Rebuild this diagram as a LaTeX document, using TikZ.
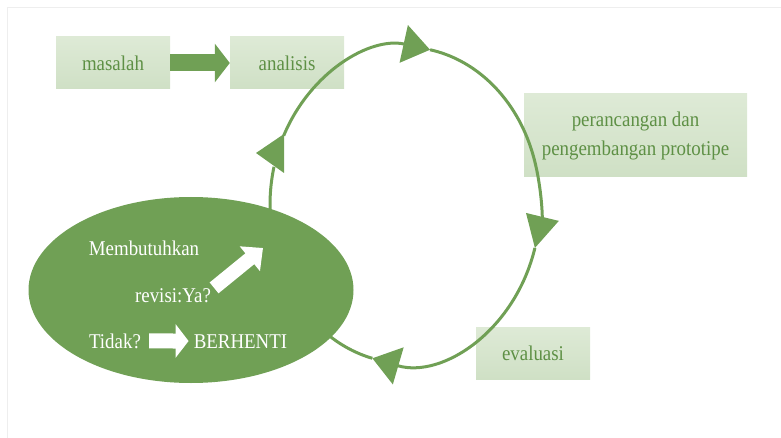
\documentclass[tikz,border=0pt]{standalone}
\usepackage{fontspec}
\setmainfont{Liberation Serif}[FakeStretch=0.9]
\usetikzlibrary{arrows.meta,shapes.geometric}
\definecolor{leafgreen}{HTML}{70A055}
\definecolor{paletop}{HTML}{DEEAD6}
\definecolor{palebot}{HTML}{CFE0C5}
\definecolor{boxtext}{HTML}{5E9045}
\definecolor{framegray}{HTML}{EEEEEE}

\begin{document}
\begin{tikzpicture}[x=1pt,y=-1pt,
    stagebox/.style={rectangle, top color=paletop, bottom color=palebot, text=boxtext,
      inner sep=0pt, align=center, font=\fontsize{21}{29}\selectfont},
    decision/.style={ellipse, fill=leafgreen, inner sep=0pt, minimum width=325pt, minimum height=186pt},
    whitetext/.style={text=white, inner sep=0pt, font=\fontsize{21}{25}\selectfont},
    cycleline/.style={draw=leafgreen, line width=3pt},
    blockarrow/.style={leafgreen, line width=17pt, -{Triangle[length=15pt,width=38pt]}},
    whitearrow/.style={white, line width=14pt, -{Triangle[length=17pt,width=31pt]}}]
  \useasboundingbox (0,0) rectangle (781,438);
  \draw[framegray] (7,438) -- (7,7) -- (781,7);

  % the stages
  \node[stagebox, minimum width=114pt, minimum height=52pt] (masalah) at (113,63) {masalah};
  \node[stagebox, minimum width=114pt, minimum height=52pt] (analisis) at (287,63) {analisis};
  \node[stagebox, minimum width=223pt, minimum height=83pt] (perancangan) at (635.5,135.5) {perancangan dan\\pengembangan prototipe};
  \node[stagebox, minimum width=114pt, minimum height=52pt] (evaluasi) at (533,353) {evaluasi};
  \draw[blockarrow] (masalah) -- (analisis);

  % the cycle
  \coordinate (loop) at (405,205);
  \draw[cycleline] (loop) ++(175:135 and 158) arc[start angle=175, end angle=194, x radius=135, y radius=158];
  \fill[leafgreen] (256,153) -- (284,134) -- (284,173) -- cycle;
  \draw[cycleline, -{Triangle[length=27pt,width=38pt]}] (loop) ++(206:135 and 158) arc[start angle=206, end angle=280.7, x radius=135, y radius=158];
  \draw[cycleline, -{Triangle[length=32pt,width=33pt]}] (loop) ++(280.7:135 and 158) arc[start angle=280.7, end angle=375.8, x radius=135, y radius=158];
  \draw[cycleline, -{Triangle[length=27pt,width=38pt]}] (loop) ++(15.8:135 and 158) arc[start angle=15.8, end angle=104, x radius=135, y radius=158];
  \draw[cycleline] (loop) ++(104:135 and 158) arc[start angle=104, end angle=125, x radius=135, y radius=158];

  % the decision
  \node[decision] (revisi) at (191,290) {};
  \node[whitetext, anchor=base] (membutuhkan) at (144,255) {Membutuhkan};
  \node[whitetext, anchor=base] (ya) at (173,302) {revisi:Ya?};
  \node[whitetext, anchor=base] (tidak) at (115,348) {Tidak?};
  \node[whitetext, anchor=base] (berhenti) at (240.5,348) {BERHENTI};
  \coordinate (lanjut) at (263,248);
  \draw[whitearrow] ([xshift=3pt]ya.north east) -- (lanjut);
  \draw[whitearrow, line width=15pt, -{Triangle[length=13pt,width=33pt]}, shorten <=8pt, shorten >=5pt] (tidak) -- (berhenti);
\end{tikzpicture}
\end{document}
